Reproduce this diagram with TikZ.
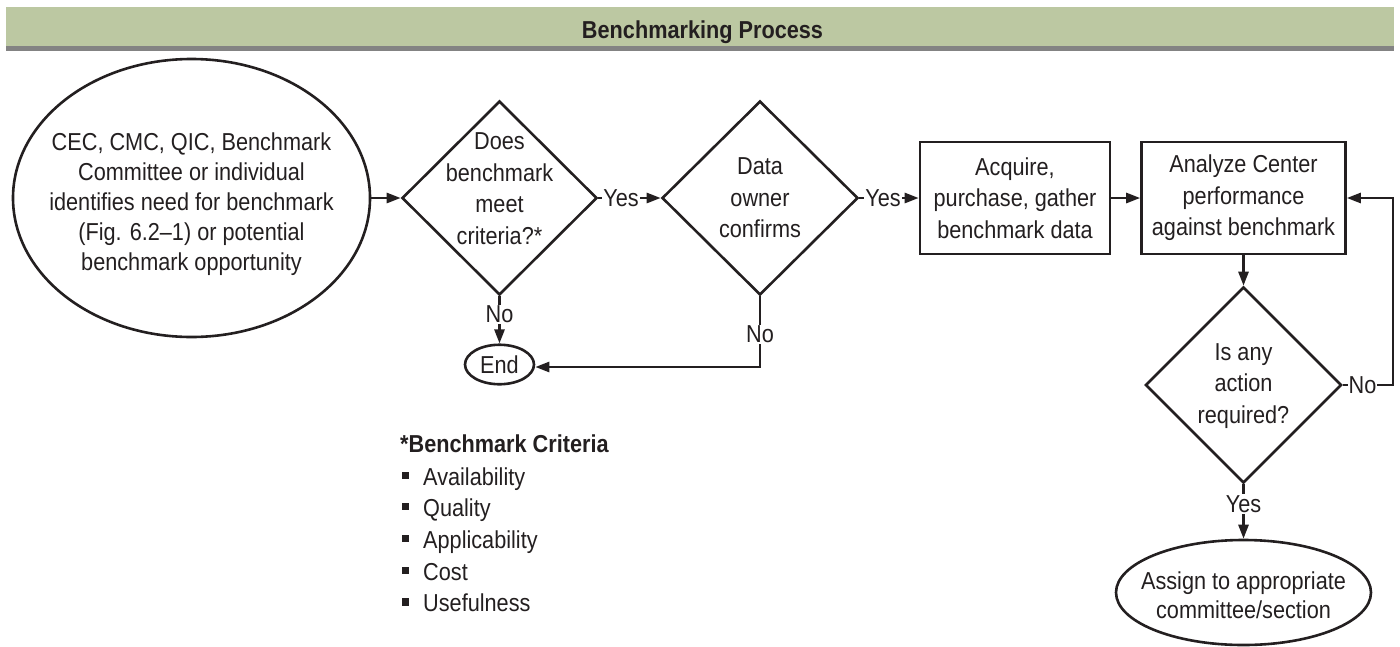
\documentclass[tikz,border=0pt]{standalone}
\usepackage{fontspec}
\setmainfont{Liberation Sans}[FakeStretch=0.885]
\usetikzlibrary{shapes.geometric,arrows.meta,calc}
\definecolor{ink}{HTML}{231F20}
\definecolor{band}{HTML}{BCC8A2}
\definecolor{bandedge}{HTML}{838383}

\begin{document}
\begin{tikzpicture}[x=1pt,y=-1pt,
  every node/.style={text=ink, font=\fontsize{24.5}{31.5}\selectfont},
  conn/.style={draw=ink, line width=2.6pt},
  arr/.style={conn, -{Triangle[length=14pt,width=10pt]}},
  txt/.style={align=center, inner sep=0pt},
  oval/.style={conn, ellipse, inner sep=0pt},
  decision/.style={conn, diamond, inner sep=0pt},
  stepbox/.style={conn, rectangle, inner sep=0pt, align=center, minimum height=112pt},
  lbl/.style={fill=white, inner sep=1pt},
  sq/.style={rectangle, fill=ink, inner sep=0pt, minimum size=7.5pt},
  item/.style={anchor=base west, inner sep=0pt}]

\useasboundingbox (0,0) rectangle (1400,646);

% title band
\fill[band] (6,7) rectangle (1394,46);
\fill[bandedge] (6,46) rectangle (1394,51);
\node[anchor=base, inner sep=0pt, font=\fontsize{24.5}{30}\selectfont\bfseries] (title) at (702.5,38) {Benchmarking Process};

% shapes
\node[oval, minimum width=357pt, minimum height=278pt] (start) at (191.5,198) {};
\node[txt, font=\fontsize{24.5}{30}\selectfont] (start-t) at (191.5,204.5)
  {CEC, CMC, QIC, Benchmark\\Committee or individual\\identifies need for benchmark\\(Fig. 6.2--1) or potential\\benchmark opportunity};

\node[decision, minimum width=195pt, minimum height=194pt] (d1) at (499.5,198) {};
\node[txt] (d1-t) at (499.5,188.5) {Does\\benchmark\\meet\\criteria?*};

\node[decision, minimum width=196pt, minimum height=194pt] (d2) at (760,198) {};
\node[txt] (d2-t) at (760,198) {Data\\owner\\confirms};

\node[stepbox, minimum width=190pt] (acq) at (1015,198) {Acquire,\\purchase, gather\\benchmark data};
\node[stepbox, minimum width=204pt] (ana) at (1243.5,198) {Analyze Center\\performance\\against benchmark};

\node[decision, minimum width=196pt, minimum height=196pt] (d3) at (1243.5,385) {};
\node[txt] (d3-t) at (1243.5,386) {Is any\\action\\required?};

\node[oval, minimum width=255pt, minimum height=105pt] (assign) at (1243.5,592.5) {};
\node[txt, font=\fontsize{24.5}{29.5}\selectfont] (assign-t) at (1243.5,595)
  {Assign to appropriate\\committee/section};

\node[oval, minimum width=69pt, minimum height=39.5pt] (endn) at (499.5,364.5) {End};

% connectors
\draw[arr] (start.east) -- (d1.west);
\draw[arr] (d1.east) -- (d2.west);
\draw[arr] (d2.east) -- (acq.west);
\draw[arr] (acq.east) -- (ana.west);
\draw[arr] (ana.south) -- (d3.north);
\draw[arr] (d3.south) -- (assign.north);
\draw[arr] (d1.south) -- (endn.north);
\draw[arr] (d2.south) |- ($(endn.east)+(0,2.5)$);
\draw[arr] (d3.east) -- ++(50,0) |- (ana.east);

% branch labels
\node[lbl] (y1) at (621,198) {Yes};
\node[lbl] (y2) at (883,198) {Yes};
\node[lbl] (n1) at (499.5,314.5) {No};
\node[lbl] (n2) at (760,334.5) {No};
\node[lbl] (n3) at (1362.5,385) {No};
\node[lbl] (y3) at (1243.5,504) {Yes};

% criteria list
\node[item, font=\fontsize{24.5}{30}\selectfont\bfseries] (crit) at (400,452) {*Benchmark Criteria};
\node[sq] (b1) at (405.5,475.5) {};
\node[item] (c1) at (423,485) {Availability};
\node[sq] (b2) at (405.5,506.5) {};
\node[item] (c2) at (423,516) {Quality};
\node[sq] (b3) at (405.5,538.5) {};
\node[item] (c3) at (423,548) {Applicability};
\node[sq] (b4) at (405.5,570.5) {};
\node[item] (c4) at (423,580) {Cost};
\node[sq] (b5) at (405.5,602) {};
\node[item] (c5) at (423,611.5) {Usefulness};

\end{tikzpicture}
\end{document}
